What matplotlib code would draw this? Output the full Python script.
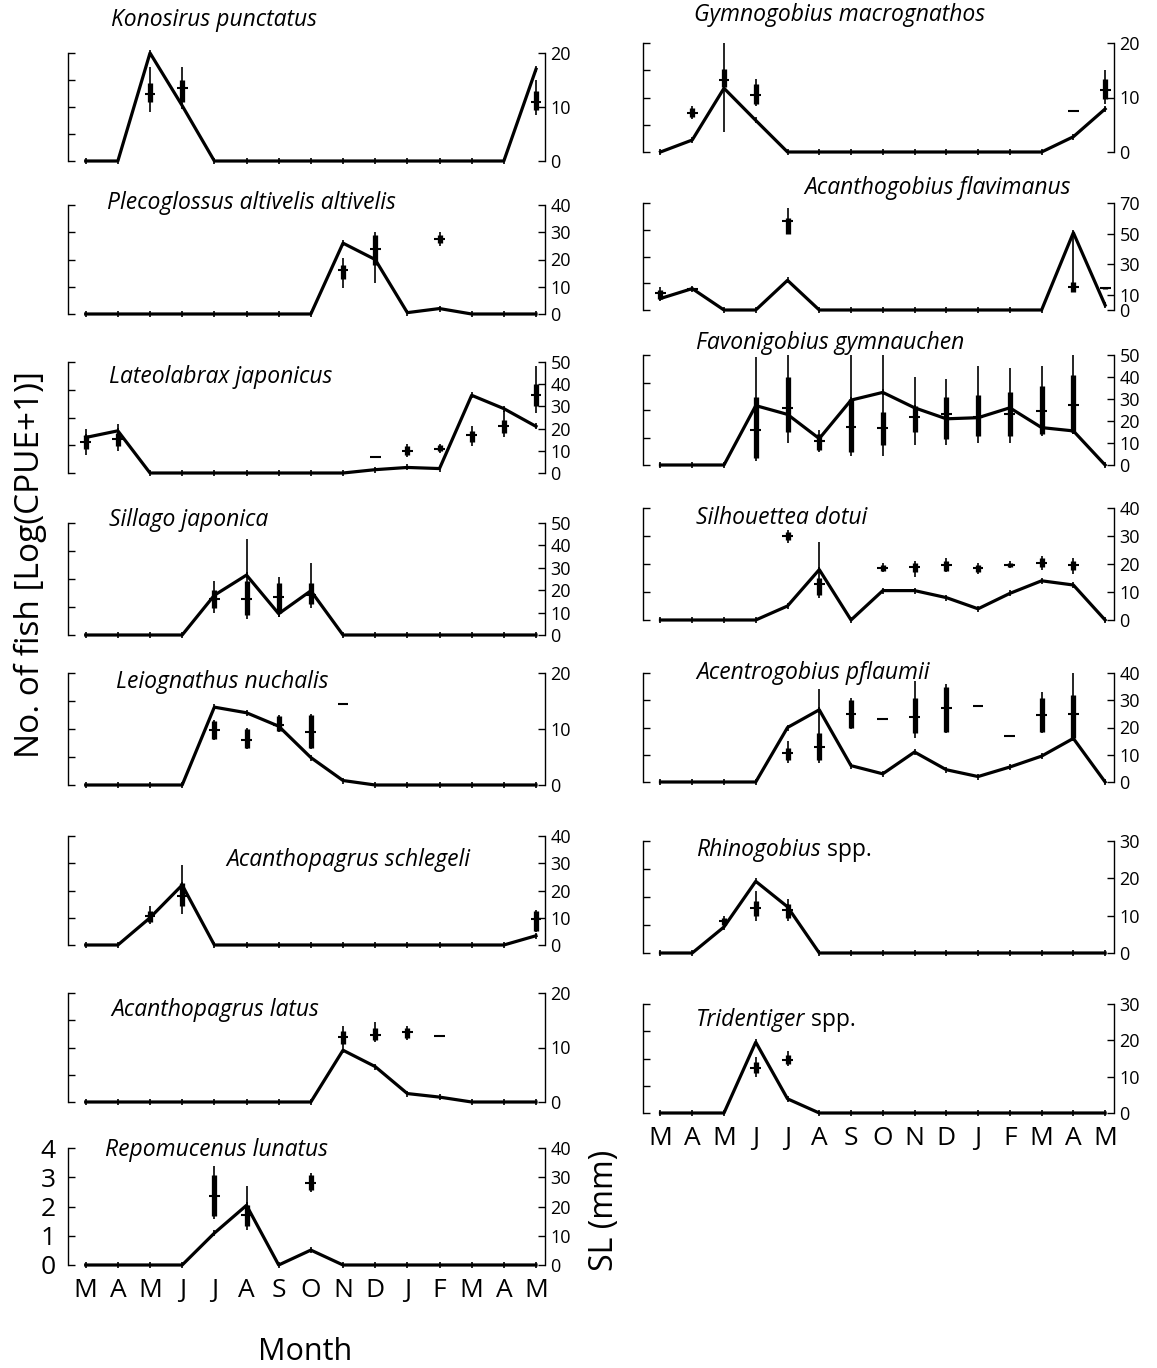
import numpy as np
import matplotlib.pyplot as plt

plt.rcParams['font.family'] = ['Open Sans', 'DejaVu Sans']

months = ['M', 'A', 'M', 'J', 'J', 'A', 'S', 'O', 'N', 'D', 'J', 'F', 'M', 'A', 'M']

# CPUE lines, Log(CPUE+1), one value per month
konosirus_cpue = [0, 0, 4.0, 2.05, 0, 0, 0, 0, 0, 0, 0, 0, 0, 0, 3.4]
plecoglossus_cpue = [0, 0, 0, 0, 0, 0, 0, 0, 2.6, 2.0, 0.05, 0.2, 0, 0, 0]
lateolabrax_cpue = [1.28, 1.52, 0, 0, 0, 0, 0, 0, 0, 0.12, 0.2, 0.16, 2.8, 2.32, 1.68]
sillago_cpue = [0, 0, 0, 0, 1.42, 2.14, 0.76, 1.58, 0, 0, 0, 0, 0, 0, 0]
leiognathus_cpue = [0, 0, 0, 0, 2.78, 2.58, 2.1, 0.98, 0.16, 0, 0, 0, 0, 0, 0]
schlegeli_cpue = [0, 0, 1.0, 2.2, 0, 0, 0, 0, 0, 0, 0, 0, 0, 0, 0.34]
latus_cpue = [0, 0, 0, 0, 0, 0, 0, 0, 1.9, 1.3, 0.31, 0.18, 0, 0, 0]
repomucenus_cpue = [0, 0, 0, 0, 1.09, 2.04, 0, 0.51, 0, 0, 0, 0, 0, 0, 0]
gymnogobius_cpue = [0, 0.44, 2.34, 1.16, 0, 0, 0, 0, 0, 0, 0, 0, 0, 0.56, 1.58]
acanthogobius_cpue = [0.43, 0.8, 0, 0, 1.11, 0, 0, 0, 0, 0, 0, 0, 0, 2.89, 0.18]
favonigobius_cpue = [0, 0, 0, 2.16, 1.84, 0.96, 2.36, 2.64, 2.08, 1.68, 1.72, 2.08, 1.36, 1.24, 0]
silhouettea_cpue = [0, 0, 0, 0, 0.5, 1.8, 0, 1.05, 1.05, 0.8, 0.4, 0.95, 1.4, 1.25, 0]
acentrogobius_cpue = [0, 0, 0, 0, 2.0, 2.65, 0.6, 0.3, 1.1, 0.45, 0.2, 0.55, 0.95, 1.6, 0]
rhinogobius_cpue = [0, 0, 0.93, 2.56, 1.65, 0, 0, 0, 0, 0, 0, 0, 0, 0, 0]
tridentiger_cpue = [0, 0, 0, 2.6, 0.52, 0, 0, 0, 0, 0, 0, 0, 0, 0, 0]

# SL (mm): month index, min, box low, median, box high, max
konosirus_sl = [(2, 9, 11, 12.5, 14.5, 17.5), (3, 10.5, 11, 13.5, 15, 17.5),
                (14, 8.5, 9.5, 11, 13, 15)]
plecoglossus_sl = [(8, 9.5, 13, 16, 18, 20.5), (9, 11.5, 18, 24, 29, 30),
                   (11, 25, 26, 27.5, 29, 30)]
lateolabrax_sl = [(0, 8, 11, 14, 17, 20), (1, 10, 12, 15.5, 18, 22), (9, 7, 7, 7, 7, 7),
                  (10, 7, 8, 10, 12, 13), (11, 9, 10, 11, 12.5, 13),
                  (12, 12, 14, 17, 19, 21), (13, 16, 18, 21, 24, 28),
                  (14, 27, 30, 35, 40, 48)]
sillago_sl = [(4, 10, 12, 16, 20, 24), (5, 7, 9, 16, 24, 43), (6, 8, 10, 17, 23, 26),
              (7, 12, 14, 18, 23, 32)]
leiognathus_sl = [(4, 8, 8.3, 9.8, 11.5, 11.6), (5, 6.4, 6.6, 8, 10, 10.1),
                  (6, 9.5, 9.7, 10.8, 12.3, 12.5), (7, 6.4, 6.6, 9.5, 12.5, 12.7),
                  (8, 14.5, 14.5, 14.5, 14.5, 14.5)]
schlegeli_sl = [(2, 7.6, 8.5, 10.5, 12.5, 14.2), (3, 11.2, 14.2, 18, 22.6, 29.2),
                (14, 4.6, 5.2, 9.5, 12.4, 13)]
latus_sl = [(8, 10.1, 10.6, 11.9, 13.1, 14), (9, 11, 11.3, 12.3, 13.5, 14.6),
            (10, 11.3, 11.8, 12.8, 13.5, 14), (11, 12.2, 12.2, 12.2, 12.2, 12.2)]
repomucenus_sl = [(4, 15.8, 16.6, 23.7, 30.9, 33.9), (5, 12.1, 13.3, 17, 20.6, 27),
                  (7, 24.8, 25.5, 28, 30.9, 31.5)]
gymnogobius_sl = [(1, 6.1, 6.4, 7.2, 8.1, 8.4), (2, 3.6, 11.9, 13.2, 15.3, 20),
                  (3, 8.4, 8.75, 10.5, 12.5, 13.4), (13, 7.5, 7.5, 7.5, 7.5, 7.5),
                  (14, 8.75, 9.7, 11.3, 13.4, 15)]
acanthogobius_sl = [(0, 6.5, 7.5, 11, 12.9, 15), (1, 13, 13.3, 14, 14.7, 15),
                    (4, 50, 50, 58, 60, 67), (13, 11.8, 11.8, 15, 18.3, 50.6),
                    (14, 13.8, 13.8, 14.4, 15, 15)]
favonigobius_sl = [(3, 2, 3, 16, 31, 49), (4, 10, 15, 26, 40, 50), (5, 6, 7, 11, 14, 16),
                   (6, 4, 6, 17.5, 30, 50), (7, 4, 9, 17, 24, 50), (8, 9, 15, 22, 27, 40),
                   (9, 9, 12, 23, 31, 39), (10, 10, 13, 22, 32, 45),
                   (11, 10, 13, 23, 33, 44), (12, 13, 14, 24.5, 36, 45),
                   (13, 14, 15, 27.5, 41, 50)]
silhouettea_sl = [(4, 27.5, 28.5, 30, 31.5, 32), (5, 8, 9, 13, 15, 28),
                  (7, 17, 17.5, 18.5, 19.5, 20.5), (8, 15.5, 17, 19, 20.5, 21),
                  (9, 17, 17.5, 19.5, 21, 22), (10, 16.5, 17, 18.5, 19.5, 20.5),
                  (11, 18.5, 19, 19.8, 20.5, 21), (12, 18, 19, 20.5, 22, 23),
                  (13, 16.5, 18, 19.5, 21, 22)]
acentrogobius_sl = [(4, 7, 8, 10.5, 12.5, 15), (5, 7, 8, 13, 18, 34),
                    (6, 19.5, 20, 25, 30, 31), (7, 23, 23, 23, 23, 23),
                    (8, 16, 18, 24, 31, 37), (9, 18, 18.5, 27, 35, 36),
                    (10, 28, 28, 28, 28, 28), (11, 17, 17, 17, 17, 17),
                    (12, 18, 18.5, 24.5, 31, 33), (13, 15, 16, 25, 32, 40)]
rhinogobius_sl = [(2, 7, 7.5, 8.5, 9.5, 10), (3, 8.5, 10, 12, 14, 16.5),
                  (4, 8.5, 9.5, 11.5, 13, 14.5)]
tridentiger_sl = [(3, 10, 11, 12.5, 14, 15.5), (4, 13, 13.5, 14.5, 16, 17)]

# name, suffix, cpue, sl, right axis ticks
left_species = [
    ('Konosirus punctatus', '', konosirus_cpue, konosirus_sl, [0, 10, 20]),
    ('Plecoglossus altivelis altivelis', '', plecoglossus_cpue, plecoglossus_sl, [0, 10, 20, 30, 40]),
    ('Lateolabrax japonicus', '', lateolabrax_cpue, lateolabrax_sl, [0, 10, 20, 30, 40, 50]),
    ('Sillago japonica', '', sillago_cpue, sillago_sl, [0, 10, 20, 30, 40, 50]),
    ('Leiognathus nuchalis', '', leiognathus_cpue, leiognathus_sl, [0, 10, 20]),
    ('Acanthopagrus schlegeli', '', schlegeli_cpue, schlegeli_sl, [0, 10, 20, 30, 40]),
    ('Acanthopagrus latus', '', latus_cpue, latus_sl, [0, 10, 20]),
    ('Repomucenus lunatus', '', repomucenus_cpue, repomucenus_sl, [0, 10, 20, 30, 40]),
]
right_species = [
    ('Gymnogobius macrognathos', '', gymnogobius_cpue, gymnogobius_sl, [0, 10, 20]),
    ('Acanthogobius flavimanus', '', acanthogobius_cpue, acanthogobius_sl, [0, 10, 30, 50, 70]),
    ('Favonigobius gymnauchen', '', favonigobius_cpue, favonigobius_sl, [0, 10, 20, 30, 40, 50]),
    ('Silhouettea dotui', '', silhouettea_cpue, silhouettea_sl, [0, 10, 20, 30, 40]),
    ('Acentrogobius pflaumii', '', acentrogobius_cpue, acentrogobius_sl, [0, 10, 20, 30, 40]),
    ('Rhinogobius', ' spp.', rhinogobius_cpue, rhinogobius_sl, [0, 10, 20, 30]),
    ('Tridentiger', ' spp.', tridentiger_cpue, tridentiger_sl, [0, 10, 20, 30]),
]

W, H = 1157, 1368
fig = plt.figure(figsize=(W / 100, H / 100), dpi=100)

# pixel layout: panel top, panel bottom, title x, title y
left_rows = [(53, 161, 111, 20), (205, 314, 107, 203), (362, 473, 109, 377),
             (523, 635, 109, 520), (673, 785, 116, 682), (836, 945, 226, 860),
             (993, 1102, 111, 1010), (1148, 1265, 105, 1150)]
right_rows = [(43, 152, 694, 15), (203, 310, 804, 188), (355, 465, 696, 343),
              (508, 620, 696, 518), (673, 782, 696, 673), (841, 953, 696, 850),
              (1004, 1113, 696, 1020)]


def draw_panel(x0, x1, row, spec, show_left=False):
    top, bot, tx, ty = row
    name, suffix, cpue, sl, rticks = spec
    ax = fig.add_axes([x0 / W, 1 - bot / H, (x1 - x0) / W, (bot - top) / H])
    ax2 = ax.twinx()
    x = np.arange(len(months))
    for a in (ax, ax2):
        a.set_xlim(-0.55, 14.28)
        a.spines['top'].set_visible(False)
        a.spines['bottom'].set_visible(False)
        a.patch.set_visible(False)
    ax.spines['right'].set_visible(False)
    ax2.spines['left'].set_visible(False)
    ax.spines['left'].set_linewidth(1.0)
    ax2.spines['right'].set_linewidth(1.0)

    ax.set_ylim(0, 4)
    ax.set_yticks([0, 1, 2, 3, 4])
    ax.tick_params(axis='y', direction='in', length=5, width=1.0,
                   labelsize=19, pad=9, labelleft=show_left)
    ax.tick_params(axis='x', bottom=False, labelbottom=False)

    ax2.set_ylim(0, rticks[-1])
    ax2.set_yticks(rticks)
    ax2.tick_params(axis='y', direction='in', length=5, width=1.0, labelsize=13, pad=4)
    ax2.tick_params(axis='x', bottom=False, labelbottom=False)

    ax.plot(x, cpue, color='black', lw=2.3, marker='|', ms=5, mew=1.2, clip_on=False, zorder=3)

    for m, lo, blo, med, bhi, hi in sl:
        ax2.vlines(m, lo, hi, color='black', lw=1.2, zorder=4)
        ax2.vlines(m, blo, bhi, color='black', lw=3.8, zorder=4)
        ax2.hlines(med, m - 0.17, m + 0.17, color='black', lw=1.5, zorder=4)

    t = fig.text(tx / W, 1 - ty / H, name, fontsize=16.5, style='italic', va='center', ha='left')
    if suffix:
        ax2.annotate(suffix, xy=(1, 0.5), xycoords=t, va='center', ha='left',
                     fontsize=16.5, annotation_clip=False)
    return ax


for row, spec in zip(left_rows, left_species):
    ax = draw_panel(68, 545, row, spec, show_left=(spec is left_species[-1]))
ax.set_xticks(np.arange(len(months)))
ax.set_xticklabels(months)
ax.tick_params(axis='x', labelbottom=True, labelsize=19, pad=6)

for row, spec in zip(right_rows, right_species):
    axr = draw_panel(643, 1114, row, spec)
axr.set_xticks(np.arange(len(months)))
axr.set_xticklabels(months)
axr.tick_params(axis='x', labelbottom=True, labelsize=19, pad=6)

fig.text(30 / W, 1 - 565 / H, 'No. of fish [Log(CPUE+1)]', rotation=90, fontsize=24,
         ha='center', va='center')
fig.text(605 / W, 1 - 1210 / H, 'SL (mm)', rotation=90, fontsize=23, ha='center', va='center')
fig.text(305 / W, 1 - 1352 / H, 'Month', fontsize=22, ha='center', va='center')

fig.savefig('out.png', dpi=100)
